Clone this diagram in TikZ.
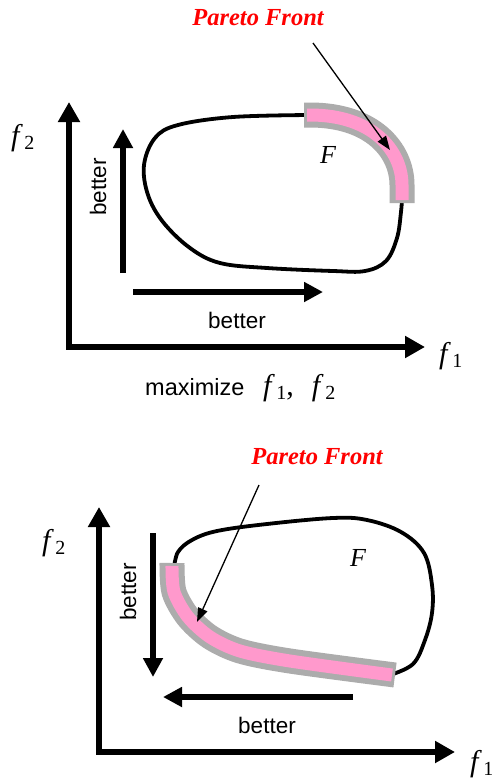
\documentclass[tikz,border=0pt]{standalone}
\usepackage{fontspec}
\setmainfont{Liberation Serif}
\newfontfamily\sansarial{Liberation Sans}
\usetikzlibrary{arrows.meta}

\definecolor{rosefront}{RGB}{255,153,204}
\definecolor{grisfront}{RGB}{172,172,172}
\newcommand{\fvar}[1]{\textit{f}\kern1.5pt\raisebox{-4.5pt}{\fontsize{20}{20}\selectfont #1}}

\tikzset{
  axe/.style={line width=6pt, line cap=rect, -{Triangle[length=20pt,width=21pt]}},
  mieux/.style={line width=6pt, -{Triangle[length=19pt,width=19pt]}},
  contour/.style={line width=3.8pt, line join=round},
  bande/.style={line width=25pt, grisfront},
  bandeint/.style={line width=13pt, rosefront},
  fleche/.style={line width=1.3pt, -{Triangle[length=14pt,width=10pt]}},
  titre/.style={text=red, font=\fontsize{24.5}{26}\selectfont\bfseries\itshape},
  txt/.style={font=\sansarial\fontsize{22.5}{24}\selectfont},
  var/.style={font=\fontsize{30}{32}\selectfont, anchor=base west, inner sep=0pt},
}

\begin{document}
\begin{tikzpicture}[x=1pt,y=-1pt]
    \useasboundingbox[fill=white] (0,0) rectangle (491,779);

    % Premier cas : maximiser f1 et f2
    \coordinate (O1) at (69,347);
    \coordinate (Y1) at (69,102);
    \coordinate (X1) at (425,347);
    \draw[axe] (O1) -- (Y1);
    \draw[axe] (O1) -- (X1);
    \node[var] (f2a) at (11,145) {\fvar{2}};
    \node[var] (f1a) at (439,363) {\fvar{1}};

    % Fleches "better"
    \coordinate (V1a) at (123,273);
    \coordinate (V1b) at (123,129);
    \coordinate (H1a) at (133,292);
    \coordinate (H1b) at (323,292);
    \draw[mieux] (V1a) -- (V1b);
    \draw[mieux] (H1a) -- (H1b);
    \node[txt, rotate=90] (bv1) at (98,187) {better};
    \node[txt] (bh1) at (237,320) {better};

    % Contour de F
    \draw[contour] plot[smooth, tension=0.6] coordinates {(310,115) (233,117) (178,125) (155,138) (144,165) (148,195) (163,222) (190,248) (220,263) (267,268) (333,271) (365,271) (386,261) (397,238) (401,212) (402,198)};

    % Front de Pareto (haut droit)
    \draw[bande] (304,115) -- (310,115) .. controls (372,115) and (402,150) .. (402,185) -- (402,203);
    \draw[bandeint] (307,115) -- (310,115) .. controls (372,115) and (402,150) .. (402,185) -- (402,200);
    \node[font=\fontsize{26}{28}\selectfont\itshape] (F1) at (328,155) {F};

    % Etiquette et fleche
    \node[titre] (pf1) at (258,18) {Pareto Front};
    \coordinate (p1a) at (313,43);
    \coordinate (p1b) at (390,150);
    \draw[fleche] (p1a) -- (p1b);

    \node[txt, font=\sansarial\fontsize{23.5}{25}\selectfont, anchor=base west, inner sep=0pt] (max) at (145,395) {maximize};
    \node[var] (fmax) at (263,395) {\fvar{1},\hspace{18pt}\fvar{2}};

    % Second cas : minimiser f1 et f2
    \coordinate (O2) at (99,752);
    \coordinate (Y2) at (99,507);
    \coordinate (X2) at (455,752);
    \draw[axe] (O2) -- (Y2);
    \draw[axe] (O2) -- (X2);
    \node[var] (f2b) at (42,550) {\fvar{2}};
    \node[var] (f1b) at (470,771) {\fvar{1}};

    % Fleches "better"
    \coordinate (V2a) at (153,533);
    \coordinate (V2b) at (153,677);
    \coordinate (H2a) at (353,697);
    \coordinate (H2b) at (163,697);
    \draw[mieux] (V2a) -- (V2b);
    \draw[mieux] (H2a) -- (H2b);
    \node[txt, rotate=90] (bv2) at (128,592) {better};
    \node[txt] (bh2) at (267,725) {better};

    % Contour de F
    \draw[contour] plot[smooth, tension=0.6] coordinates {(390,675) (413,664) (425,640) (432,613) (432,585) (424,553) (401,532) (367,520) (333,518) (267,524) (217,531) (192,540) (178,552) (174,568)};

    % Front de Pareto (bas gauche)
    \draw[bande] plot[smooth, tension=0.5] coordinates {(172,563) (174,592) (188,617) (210,637) (240,651) (290,661) (395,675)};
    \draw[bandeint] plot[smooth, tension=0.5] coordinates {(172,566) (174,592) (188,617) (210,637) (240,651) (290,661) (392,675)};
    \node[font=\fontsize{26}{28}\selectfont\itshape] (F2) at (358,558) {F};

    % Etiquette et fleche
    \node[titre] (pf2) at (317,457) {Pareto Front};
    \coordinate (p2a) at (259,485);
    \coordinate (p2b) at (197,622);
    \draw[fleche] (p2a) -- (p2b);
\end{tikzpicture}
\end{document}
